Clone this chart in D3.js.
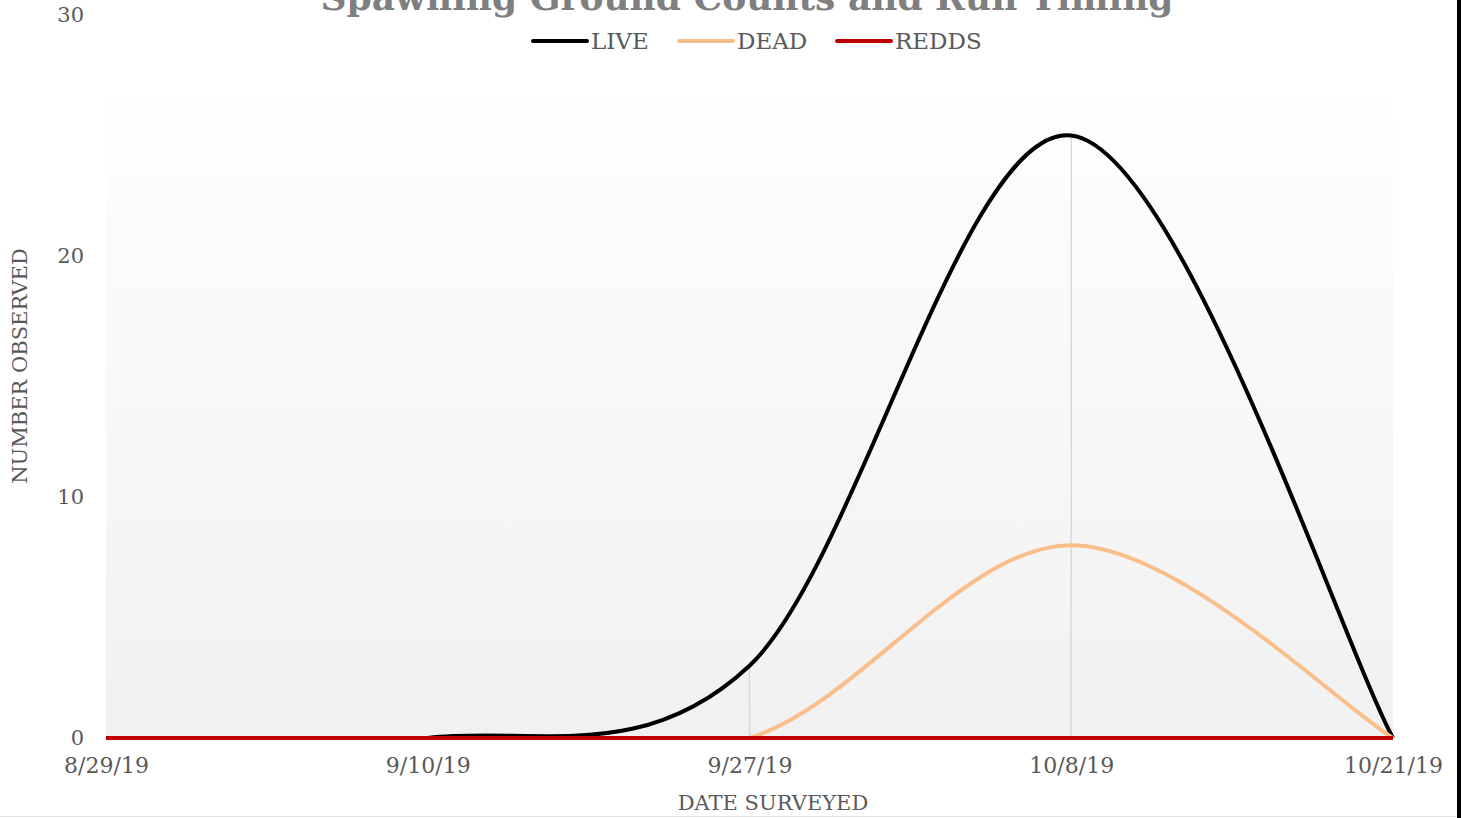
<!DOCTYPE html>
<html><head><meta charset="utf-8">
<script src="https://cdn.jsdelivr.net/npm/d3@7"></script>
<style>body{margin:0;background:#fff;overflow:hidden}svg{display:block}</style>
</head><body><svg id="c" width="1461" height="818"></svg>
<script>
const dates = ["8/29/19","9/10/19","9/27/19","10/8/19","10/21/19"];
const live  = [0, 0, 3, 25, 0];
const dead  = [0, 0, 0, 8, 0];
const redds = [0, 0, 0, 0, 0];
const yTicks = [0, 10, 20, 30];
const seriesNames = ["LIVE","DEAD","REDDS"];
const seriesColors = ["#000000","#F9BE8A","#C00000"];

// Excel-style smoothing: Catmull-Rom Bezier with duplicated end points
function ExcelCurve(context){ this._context = context; }
ExcelCurve.prototype = {
  areaStart(){ this._line = 0; },
  areaEnd(){ this._line = NaN; },
  lineStart(){ this._pts = []; },
  point(x, y){ this._pts.push([+x, +y]); },
  lineEnd(){
    const p = this._pts, n = p.length, c = this._context;
    if (!n) return;
    c.moveTo(p[0][0], p[0][1]);
    for (let i = 0; i < n - 1; i++) {
      const p0 = p[Math.max(i - 1, 0)], p1 = p[i], p2 = p[i + 1], p3 = p[Math.min(i + 2, n - 1)];
      c.bezierCurveTo(
        p1[0] + (p2[0] - p0[0]) / 6, p1[1] + (p2[1] - p0[1]) / 6,
        p2[0] - (p3[0] - p1[0]) / 6, p2[1] - (p3[1] - p1[1]) / 6,
        p2[0], p2[1]);
    }
  }
};
const excelCurve = ctx => new ExcelCurve(ctx);

const FONT = "'DejaVu Serif', serif";
const svg = d3.select("#c");
const W = 1461, H = 818;
const left = 106, right = 1393, bottom = 738, plotTop = 97;

svg.append("rect").attr("width",W).attr("height",H).attr("fill","#fff");
svg.append("rect").attr("x",1457).attr("y",0).attr("width",4).attr("height",H).attr("fill","#000");
svg.append("line").attr("x1",0).attr("x2",1457).attr("y1",816.5).attr("y2",816.5).attr("stroke","#e3e3e3").attr("stroke-width",1);

const defs = svg.append("defs");
const g = defs.append("linearGradient").attr("id","bg").attr("x1",0).attr("x2",0).attr("y1",0).attr("y2",1);
g.append("stop").attr("offset","0%").attr("stop-color","#fefefe");
g.append("stop").attr("offset","100%").attr("stop-color","#f1f1f1");
defs.append("clipPath").attr("id","plotclip").append("rect")
  .attr("x",left-3).attr("y",0).attr("width",right-left+6).attr("height",bottom+2);

const x = d3.scalePoint().domain(dates).range([left, right]);
const y = d3.scaleLinear().domain([0, 30]).range([bottom, 15]);

svg.append("rect").attr("x",left).attr("y",plotTop).attr("width",right-left).attr("height",bottom-plotTop).attr("fill","url(#bg)");

const seriesData = [live, dead, redds];
dates.forEach((d,i)=>{
  const mx = d3.max(seriesData, s=>s[i]);
  if (mx>0) svg.append("line").attr("x1",x(d)).attr("x2",x(d)).attr("y1",y(0)).attr("y2",y(mx))
    .attr("stroke","#d9d9d9").attr("stroke-width",1.5);
});

const line = d3.line().x((v,i)=>x(dates[i])).y(v=>y(v)).curve(excelCurve);
const plot = svg.append("g").attr("clip-path","url(#plotclip)");
seriesData.forEach((s,k)=>{
  plot.append("path").attr("d",line(s)).attr("fill","none").attr("stroke",seriesColors[k])
    .attr("stroke-width",4).attr("stroke-linejoin","round").attr("stroke-linecap","butt");
});

const yAxis = svg.append("g").attr("transform",`translate(${left},0)`)
  .call(d3.axisLeft(y).tickValues(yTicks).tickSize(0).tickPadding(22));
yAxis.select(".domain").remove();
yAxis.selectAll("text").attr("font-family",FONT).attr("font-size",21).attr("fill","#595959");

const xAxis = svg.append("g").attr("transform",`translate(0,${bottom})`)
  .call(d3.axisBottom(x).tickSize(0).tickPadding(19));
xAxis.select(".domain").remove();
xAxis.selectAll("text").attr("font-family",FONT).attr("font-size",22).attr("fill","#595959");

svg.append("text").attr("x",773).attr("y",810).attr("text-anchor","middle")
  .attr("font-family",FONT).attr("font-size",21).attr("fill","#595959").text("DATE SURVEYED");
svg.append("text").attr("transform","translate(27,366) rotate(-90)").attr("text-anchor","middle")
  .attr("font-family",FONT).attr("font-size",21).attr("fill","#595959").text("NUMBER OBSERVED");

svg.append("text").attr("x",747).attr("y",10).attr("text-anchor","middle")
  .attr("font-family",FONT).attr("font-weight","bold").attr("font-size",36).attr("fill","#7f7f7f")
  .text("Spawning Ground Counts and Run Timing");

const legX = [533, 679, 837];
seriesNames.forEach((n,k)=>{
  svg.append("line").attr("x1",legX[k]).attr("x2",legX[k]+54).attr("y1",41).attr("y2",41)
    .attr("stroke",seriesColors[k]).attr("stroke-width",4).attr("stroke-linecap","round");
  svg.append("text").attr("x",legX[k]+58).attr("y",49).attr("font-family",FONT).attr("font-size",23)
    .attr("fill","#595959").text(n);
});
</script></body></html>
